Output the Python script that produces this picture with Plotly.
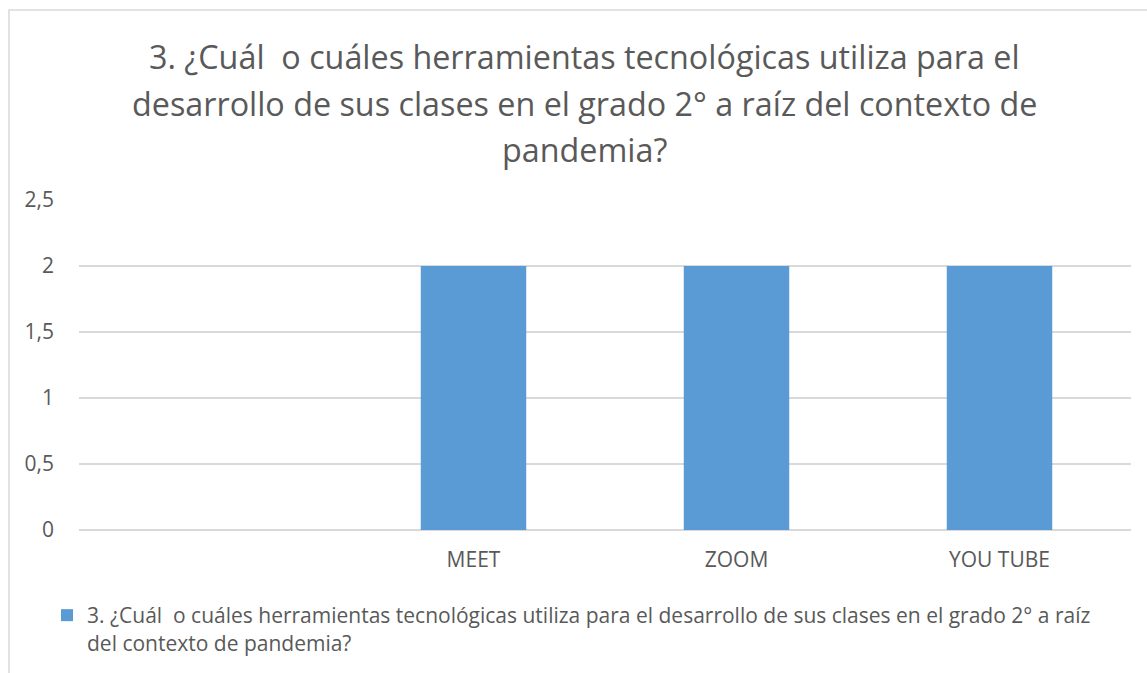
import plotly.graph_objects as go

categories = [" ", "MEET", "ZOOM", "YOU TUBE"]
values = [None, 2, 2, 2]
y_ticks = [0, 0.5, 1, 1.5, 2, 2.5]
y_tick_labels = ["0", "0,5", "1", "1,5", "2", "2,5"]
title_lines = ["3. ¿Cuál  o cuáles herramientas tecnológicas utiliza para el",
               "desarrollo de sus clases en el grado 2° a raíz del contexto de",
               "pandemia?"]
series_name = ("3. ¿Cuál  o cuáles herramientas tecnológicas utiliza para el desarrollo de sus clases en el grado 2° a raíz<br>"
               "del contexto de pandemia?")

FONT = "Open Sans"
GREY = "#595959"
W, H = 1147, 673
ML, MR, MT, MB = 79, 16, 200, 143
pw = W - ML - MR
ph = H - MT - MB

fig = go.Figure()
fig.add_trace(go.Bar(x=categories, y=values, name=series_name,
                     marker=dict(color="#5B9BD5", line=dict(width=0)),
                     showlegend=True))

fig.update_layout(
    width=W, height=H,
    margin=dict(l=ML, r=MR, t=MT, b=MB, autoexpand=False),
    paper_bgcolor="white", plot_bgcolor="white",
    font=dict(family=FONT, color=GREY, size=21),
    bargap=0.599,
    showlegend=True,
    legend=dict(orientation="h", x=(47 - ML) / pw, xanchor="left",
                y=(H - MB - 595) / ph, yanchor="top", valign="top",
                font=dict(family=FONT, size=21, color=GREY),
                itemwidth=30, bgcolor="rgba(0,0,0,0)"),
    xaxis=dict(type="category", showgrid=False, showline=False, ticks="",
               tickfont=dict(family=FONT, size=21, color=GREY),
               ticklabelstandoff=15),
    yaxis=dict(range=[0, 2.5], tickvals=y_ticks, ticktext=y_tick_labels,
               showgrid=True, gridcolor="#D9D9D9", gridwidth=1.5,
               zeroline=True, zerolinecolor="#D9D9D9", zerolinewidth=1.5,
               ticks="", ticklen=0, showline=False,
               tickfont=dict(family=FONT, size=21, color=GREY),
               ticklabelstandoff=24),
)

# chart title, one annotation per line
title_centres = [56, 102.5, 149]
for line, yc in zip(title_lines, title_centres):
    fig.add_annotation(text=line, xref="paper", yref="paper",
                       x=(584.5 - ML) / pw, xanchor="center",
                       y=(H - MB - yc) / ph, yanchor="middle",
                       showarrow=False, align="center",
                       font=dict(family=FONT, size=32.3, color=GREY))

# chart border
fig.add_shape(type="rect", xref="paper", yref="paper",
              x0=(9 - ML) / pw, x1=(1170 - ML) / pw,
              y0=(H - MB - 690) / ph, y1=(H - MB - 10) / ph,
              line=dict(color="#D9D9D9", width=1.5), fillcolor="rgba(0,0,0,0)",
              layer="below")

fig.write_html("out.html", config={"displayModeBar": False},
               post_script="document.body.style.margin='0';document.body.style.overflow='hidden';")
